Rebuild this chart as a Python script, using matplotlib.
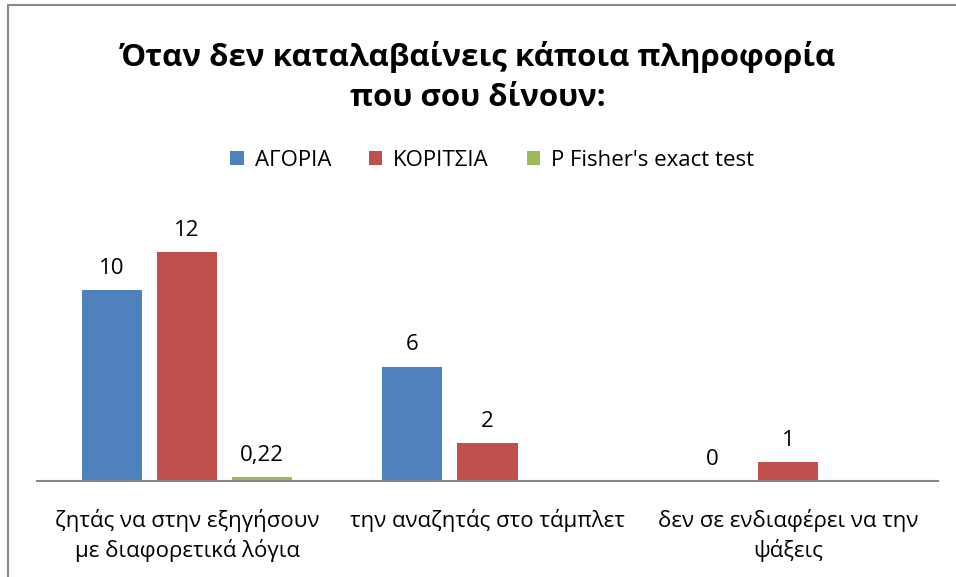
import numpy as np
import matplotlib.pyplot as plt
from matplotlib.patches import Rectangle

plt.rcParams['font.family'] = ['Open Sans', 'Noto Sans', 'DejaVu Sans']

categories = ['ζητάς να στην εξηγήσουν\nμε διαφορετικά λόγια',
              'την αναζητάς στο τάμπλετ',
              'δεν σε ενδιαφέρει να την\nψάξεις']
series_names = ['ΑΓΟΡΙΑ', 'ΚΟΡΙΤΣΙΑ', "P Fisher's exact test"]
boys = [10, 6, 0]
girls = [12, 2, 1]
fisher = [0.22, np.nan, np.nan]
colors = ['#4F81BD', '#C0504D', '#9BBB59']
title = 'Όταν δεν καταλαβαίνεις κάποια πληροφορία\nπου σου δίνουν:'

W, H = 956, 577
fig = plt.figure(figsize=(W / 100, H / 100), dpi=100)
ax = fig.add_axes([37 / W, (H - 481) / H, (938 - 37) / W, (481 - 214) / H])

x = np.arange(len(categories))
width = 0.2
offsets = [-0.25, 0, 0.25]
for vals, off, col, name in zip([boys, girls, fisher], offsets, colors, series_names):
    bars = ax.bar(x + off, vals, width, color=col, label=name, linewidth=0)
    for xi, v in zip(x + off, vals):
        if np.isnan(v):
            continue
        lbl = f'{v:g}'.replace('.', ',')
        ax.annotate(lbl, (xi, v), xytext=(0, 8), textcoords='offset points',
                    ha='center', va='bottom', fontsize=16)

ax.set_xlim(-0.5, 2.5)
ax.set_ylim(0, 14)
ax.set_xticks(x)
ax.set_xticklabels(categories, fontsize=16, linespacing=1.4)
ax.tick_params(axis='x', length=0, pad=20)
ax.set_yticks([])
for s in ['top', 'right', 'left']:
    ax.spines[s].set_visible(False)
ax.spines['bottom'].set_color('#868686')
ax.spines['bottom'].set_linewidth(1.5)

fig.text(0.5, 1 - 77 / H, title, ha='center', va='center', fontsize=22.5,
         fontweight='bold', linespacing=1.45)

handles, labels = ax.get_legend_handles_labels()
fig.legend(handles, labels, loc='center', bbox_to_anchor=(0.515, 1 - 160 / H),
           ncol=3, frameon=False, fontsize=16, handlelength=0.6, handleheight=0.6,
           handletextpad=0.5, columnspacing=1.7)

fig.patches.append(Rectangle((8 / W, -0.1), 1.2, 1 - 5 / H + 0.1, transform=fig.transFigure,
                             fill=False, edgecolor='#888888', linewidth=1.5))

fig.savefig('out.png', dpi=100)
